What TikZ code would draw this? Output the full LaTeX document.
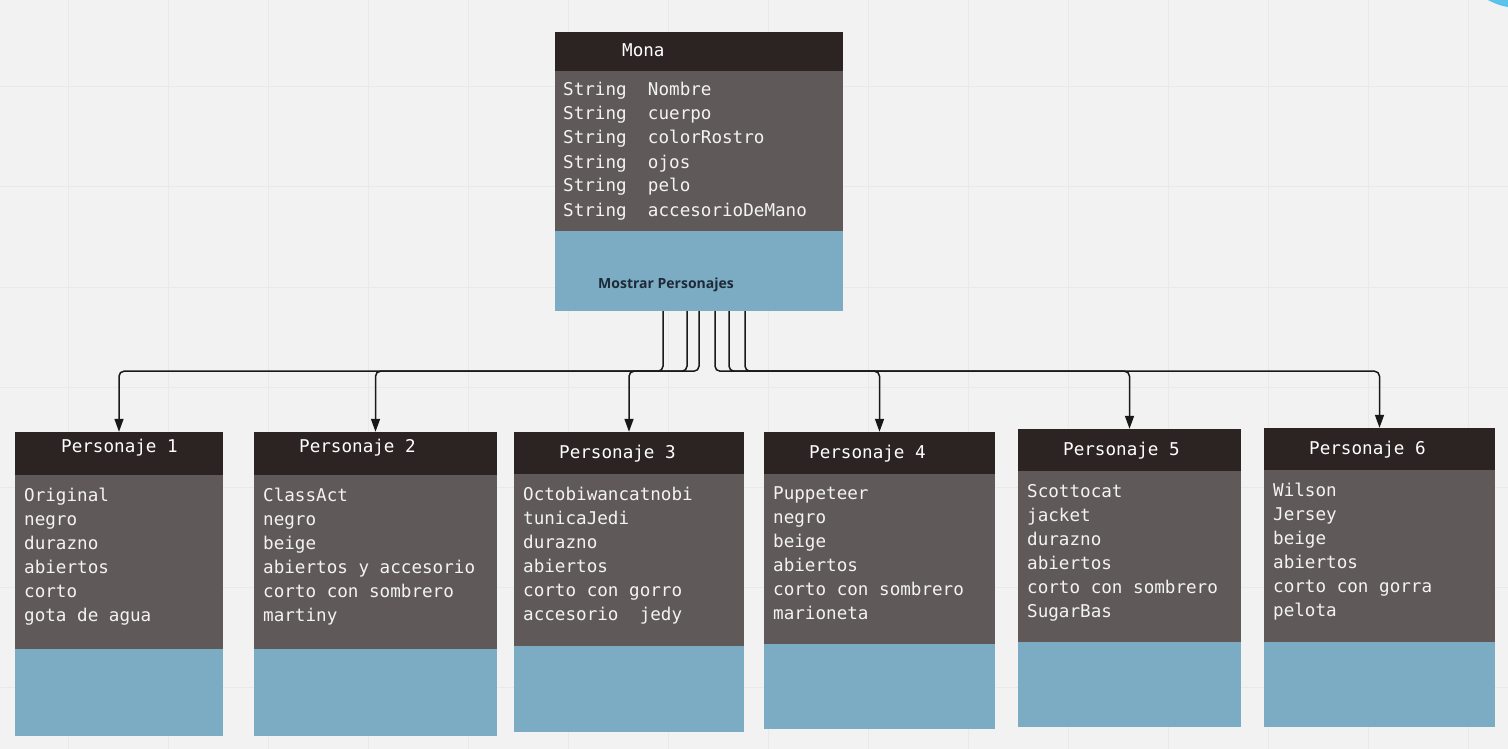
\documentclass[tikz,border=0pt]{standalone}
\usepackage{fontspec}
\setmainfont{DejaVu Sans Mono}
\newfontfamily\monof{DejaVu Sans Mono}
\newfontfamily\sansf{Open Sans}
\usetikzlibrary{calc,arrows.meta,fit}
\definecolor{bgc}{HTML}{F2F2F2}
\definecolor{gridc}{HTML}{E9E9E9}
\definecolor{headc}{HTML}{2C2323}
\definecolor{bodyc}{HTML}{5F5959}
\definecolor{bluec}{HTML}{7BACC3}
\definecolor{txtc}{HTML}{F4F2F2}
\definecolor{methc}{HTML}{1E2A38}
\definecolor{circc}{HTML}{5BC2EC}
\tikzset{
  conn/.style={draw=black!90, line width=1.5pt, rounded corners=5pt, -{Triangle[length=13pt,width=9pt]}},
  boxframe/.style={rectangle, inner sep=0pt, draw=none},
  headtxt/.style={anchor=base west, inner sep=0pt, text=white, font=\monof\fontsize{17.6}{24}\selectfont},
  bodytxt/.style={anchor=base west, inner sep=0pt, text=txtc, font=\monof\fontsize{17.6}{24}\selectfont},
  methtxt/.style={anchor=base west, inner sep=0pt, text=methc, font=\sansf\bfseries\fontsize{14}{16}\selectfont},
}
\newcommand\umlbox[7]{%
  \fill[headc] (#2,#3) rectangle (#4,#5);
  \fill[bodyc] (#2,#5) rectangle (#4,#6);
  \fill[bluec] (#2,#6) rectangle (#4,#7);
  \node[boxframe, fit={(#2,#3) (#4,#7)}] (#1) {};
}
\begin{document}
\begin{tikzpicture}[x=1pt,y=-1pt]
\useasboundingbox (0,0) rectangle (1508,749);
\fill[bgc] (0,0) rectangle (1508,749);
\foreach \gx in {68,168,...,1468} \draw[gridc, line width=1pt] (\gx,0) -- (\gx,749);
\foreach \gy in {87,187,...,687} \draw[gridc, line width=1pt] (0,\gy) -- (1508,\gy);
\fill[circc] (1519,-56) circle (64);

% Mona
\umlbox{mona}{555}{32}{843}{71}{231}{311}
\node[headtxt] (monah) at (622,57) {Mona};
\foreach \t [count=\i] in {String~~Nombre,String~~cuerpo,String~~colorRostro,String~~ojos,String~~pelo,String~~accesorioDeMano}
  \node[bodytxt] (monat\i) at (563,{96+24*(\i-1)}) {\t};
\node[methtxt] (monam) at (598,288) {Mostrar Personajes};

% Personajes
\umlbox{p1}{15}{432}{223}{475}{649}{736}
\node[headtxt] (p1h) at (61,452) {Personaje 1};
\foreach \t [count=\i] in {Original,negro,durazno,abiertos,corto,gota de agua}
  \node[bodytxt] (p1t\i) at (24,{501+24*(\i-1)}) {\t};

\umlbox{p2}{254}{432}{497}{475}{649}{736}
\node[headtxt] (p2h) at (299,452) {Personaje 2};
\foreach \t [count=\i] in {ClassAct,negro,beige,abiertos y accesorio,corto con sombrero,martiny}
  \node[bodytxt] (p2t\i) at (263,{501+24*(\i-1)}) {\t};

\umlbox{p3}{514}{432}{744}{474}{646}{732}
\node[headtxt] (p3h) at (559,458) {Personaje 3};
\foreach \t [count=\i] in {Octobiwancatnobi,tunicaJedi,durazno,abiertos,corto con gorro,accesorio~~jedy}
  \node[bodytxt] (p3t\i) at (523,{500+24*(\i-1)}) {\t};

\umlbox{p4}{764}{432}{995}{474}{644}{729}
\node[headtxt] (p4h) at (809,458) {Personaje 4};
\foreach \t [count=\i] in {Puppeteer,negro,beige,abiertos,corto con sombrero,marioneta}
  \node[bodytxt] (p4t\i) at (773,{499+24*(\i-1)}) {\t};

\umlbox{p5}{1018}{429}{1241}{471}{642}{727}
\node[headtxt] (p5h) at (1063,455) {Personaje 5};
\foreach \t [count=\i] in {Scottocat,jacket,durazno,abiertos,corto con sombrero,SugarBas}
  \node[bodytxt] (p5t\i) at (1027,{497+24*(\i-1)}) {\t};

\umlbox{p6}{1264}{428}{1495}{470}{642}{727}
\node[headtxt] (p6h) at (1309,454) {Personaje 6};
\foreach \t [count=\i] in {Wilson,Jersey,beige,abiertos,corto con gorra,pelota}
  \node[bodytxt] (p6t\i) at (1273,{496+24*(\i-1)}) {\t};

% connectors
\draw[conn] ($(mona.south)+(-36,0)$) -- ++(0,60) -| (p3.north);
\draw[conn] ($(mona.south)+(-12,0)$) -- ++(0,60) -| (p2.north);
\draw[conn] ($(mona.south)+(0,0)$) -- ++(0,60) -| (p1.north);
\draw[conn] ($(mona.south)+(16,0)$) -- ++(0,60) -| (p4.north);
\draw[conn] ($(mona.south)+(30,0)$) -- ++(0,60) -| (p5.north);
\draw[conn] ($(mona.south)+(46,0)$) -- ++(0,60) -| (p6.north);
\end{tikzpicture}
\end{document}
